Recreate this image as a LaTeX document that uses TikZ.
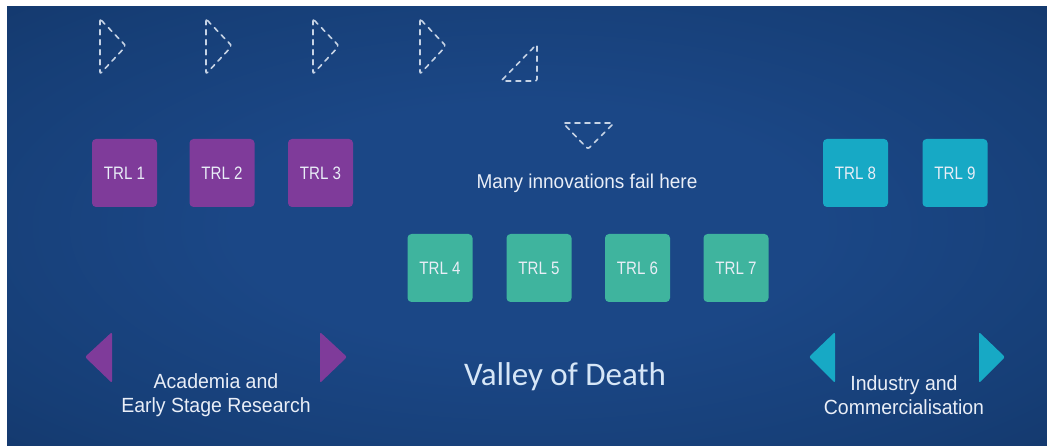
\documentclass[tikz,border=0pt]{standalone}
\usepackage{fontspec}
\setmainfont{Liberation Sans}[FakeStretch=0.95]
\newfontfamily\narrowsf{Liberation Sans}[FakeStretch=0.84]
\newfontfamily\titlefont{Carlito}

\definecolor{bginner}{HTML}{1B4786}
\definecolor{bgmid}{HTML}{163E76}
\definecolor{bgouter}{HTML}{10305F}
\definecolor{trlpurple}{HTML}{7F3B9A}
\definecolor{trlgreen}{HTML}{3FB49E}
\definecolor{trlcyan}{HTML}{17A9C5}
\definecolor{dashline}{HTML}{C6D3E5}
\definecolor{labeltext}{HTML}{E9EEF7}
\definecolor{titletext}{HTML}{D6E6F7}

% soft, wide glow for the backdrop
\pgfdeclareradialshading{softglow}{\pgfpoint{0bp}{0bp}}{%
  color(0bp)=(bginner); color(14bp)=(bginner); color(30bp)=(bgmid);
  color(48bp)=(bgouter); color(70bp)=(bgouter)}

\tikzset{
  trlbox/.style={rectangle, rounded corners=4pt, minimum width=65pt,
    minimum height=68pt, inner sep=0pt, text=labeltext,
    font=\narrowsf\fontsize{18}{21}\selectfont},
  dashtri/.style={draw=dashline, line width=1.6pt, dash pattern=on 5pt off 5pt,
    line cap=round, line join=round, rounded corners=2pt},
  arrowtri/.style={rounded corners=2pt},
  caption/.style={text=labeltext, align=center, inner sep=0pt,
    font=\fontsize{20.5}{23.5}\selectfont},
}

\begin{document}
\begin{tikzpicture}[x=1pt,y=-1pt]
  % page and background
  \fill[white] (0,0) rectangle (1047,446);
  \shade[shading=softglow] (7,7) rectangle (1047,446);
  \useasboundingbox (0,0) rectangle (1047,446);

  % dashed triangles along the top
  \foreach \x in {100,206,313,420}{
    \draw[dashtri] (\x,19) -- (\x+26,46) -- (\x,74) -- cycle;
  }
  \draw[dashtri] (501,81) -- (537,44) -- (537,81) -- cycle;
  \draw[dashtri] (563,123) -- (614,123) -- (588,149) -- cycle;

  % TRL boxes
  \node[trlbox, fill=trlpurple] (trl1) at (124.5,173) {TRL 1};
  \node[trlbox, fill=trlpurple] (trl2) at (222,173) {TRL 2};
  \node[trlbox, fill=trlpurple] (trl3) at (320.5,173) {TRL 3};
  \node[trlbox, fill=trlgreen] (trl4) at (440,268) {TRL 4};
  \node[trlbox, fill=trlgreen] (trl5) at (539,268) {TRL 5};
  \node[trlbox, fill=trlgreen] (trl6) at (637.5,268) {TRL 6};
  \node[trlbox, fill=trlgreen] (trl7) at (736,268) {TRL 7};
  \node[trlbox, fill=trlcyan] (trl8) at (855.5,173) {TRL 8};
  \node[trlbox, fill=trlcyan] (trl9) at (955,173) {TRL 9};

  % note under the inverted triangle
  \node[caption, font=\fontsize{20}{23}\selectfont] (fail) at (587,183) {Many innovations fail here};

  % stage markers
  \fill[arrowtri, trlpurple] (85,357) -- (112,332) -- (112,383) -- cycle;
  \fill[arrowtri, trlpurple] (347,357) -- (320,332) -- (320,383) -- cycle;
  \fill[arrowtri, trlcyan] (809,357) -- (835,332) -- (835,383) -- cycle;
  \fill[arrowtri, trlcyan] (1005,357) -- (979,332) -- (979,383) -- cycle;

  % stage captions
  \node[caption] (academia) at (216,395) {Academia and\\Early Stage Research};
  \node[caption] (industry) at (904,395) {Industry and\\Commercialisation};
  \node[text=titletext, inner sep=0pt, font=\titlefont\fontsize{33}{36}\selectfont]
    (valley) at (565,377) {Valley of Death};
\end{tikzpicture}
\end{document}
